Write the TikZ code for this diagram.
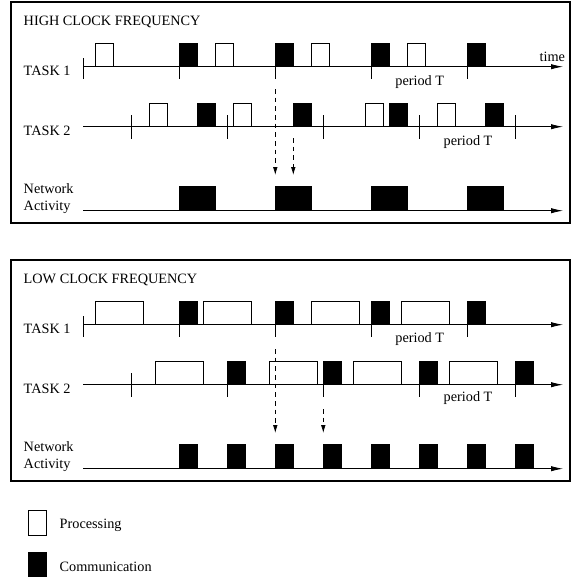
\documentclass[tikz,border=0pt]{standalone}
\usepackage{fontspec}
\setmainfont{Liberation Serif}
\usetikzlibrary{arrows.meta}
\begin{document}
\begin{tikzpicture}[x=0.75pt,y=-0.75pt,line width=0.6pt,
  axis/.style={-{Latex[length=9pt,width=4pt]}},
  flow/.style={dash pattern=on 3.5pt off 3pt,-{Latex[length=6pt,width=3.5pt]}},
  frame/.style={draw,line width=0.9pt},
  proc/.style={draw,fill=white},
  comm/.style={draw,fill=black},
  lbl/.style={anchor=base west,inner sep=0pt,font=\fontsize{10.7}{12}\selectfont}]
\useasboundingbox (0,0) rectangle (574,579);
% ================= HIGH =================
\draw[frame] (11,2) rectangle (570,223);
\node[lbl] (titleH) at (23.3,25) {HIGH CLOCK FREQUENCY};
\node[lbl] (t1H) at (23.3,75) {TASK 1};
\node[lbl] (t2H) at (23.3,135) {TASK 2};
\node[lbl] (n1H) at (23.3,193.3) {Network};
\node[lbl] (n2H) at (23.3,210.7) {Activity};
\node[lbl] (timeH) at (539.3,61) {time};
\node[lbl] (p1H) at (395,85) {period T};
\node[lbl] (p2H) at (443.3,145) {period T};
% task 1
\coordinate (a1s) at (83.3,66.7); \coordinate (a1e) at (563,66.7);
\draw[axis] (a1s) -- (a1e);
\draw (83.3,58.3) -- (83.3,79);
\foreach \x in {179.3,275.3,371.3,467.3} \draw (\x,66.7) -- (\x,79);
\foreach \x in {95.7,215,311.3,407.3} \draw[proc] (\x,66.7) rectangle ++(18,-23.4);
\foreach \x in {179.3,275.3,371.3,467.3} \draw[comm] (\x,66.7) rectangle ++(18,-23.4);
% task 2
\coordinate (a2s) at (83.3,126.7); \coordinate (a2e) at (563,126.7);
\draw[axis] (a2s) -- (a2e);
\foreach \x in {131.3,227.3,323.3,419.3,515.3} \draw (\x,115) -- (\x,139);
\foreach \x in {149.3,233.3,365.3,437.3} \draw[proc] (\x,126.7) rectangle ++(18,-23.4);
\foreach \x in {197.3,293.3,389.3,485.3} \draw[comm] (\x,126.7) rectangle ++(18,-23.4);
% network
\coordinate (a3s) at (83.3,210.7); \coordinate (a3e) at (563,210.7);
\draw[axis] (a3s) -- (a3e);
\foreach \x in {179.3,275.3,371.3,467.3} \draw[comm] (\x,210.7) rectangle ++(36,-24);
% dashed
\coordinate (d1s) at (275.3,89); \coordinate (d1e) at (275.3,175);
\coordinate (d2s) at (293.3,138); \coordinate (d2e) at (293.3,175);
\draw[flow] (d1s) -- (d1e);
\draw[flow] (d2s) -- (d2e);
% ================= LOW =================
\draw[frame] (11,260) rectangle (570,481);
\node[lbl] (titleL) at (23.3,283) {LOW CLOCK FREQUENCY};
\node[lbl] (t1L) at (23.3,333) {TASK 1};
\node[lbl] (t2L) at (23.3,393) {TASK 2};
\node[lbl] (n1L) at (23.3,451.3) {Network};
\node[lbl] (n2L) at (23.3,468.7) {Activity};
\node[lbl] (p1L) at (395,342.7) {period T};
\node[lbl] (p2L) at (443.3,401.7) {period T};
% task 1
\coordinate (b1s) at (83.3,324.7); \coordinate (b1e) at (563,324.7);
\draw[axis] (b1s) -- (b1e);
\draw (83.3,316.3) -- (83.3,337);
\foreach \x in {179.3,275.3,371.3,467.3} \draw (\x,324.7) -- (\x,337);
\foreach \x in {95.7,203.3,311.3,401.3} \draw[proc] (\x,324.7) rectangle ++(48,-23.4);
\foreach \x in {179.3,275.3,371.3,467.3} \draw[comm] (\x,324.7) rectangle ++(18,-23.4);
% task 2
\coordinate (b2s) at (83.3,384.7); \coordinate (b2e) at (563,384.7);
\draw[axis] (b2s) -- (b2e);
\draw (131.3,373) -- (131.3,397);
\foreach \x in {227.3,323.3,419.3,515.3} \draw (\x,384.7) -- (\x,397);
\foreach \x in {155.7,269.3,353.3,449.3} \draw[proc] (\x,384.7) rectangle ++(48,-23.4);
\foreach \x in {227.3,323.3,419.3,515.3} \draw[comm] (\x,384.7) rectangle ++(18,-23.4);
% network
\coordinate (b3s) at (83.3,468.7); \coordinate (b3e) at (563,468.7);
\draw[axis] (b3s) -- (b3e);
\foreach \x in {179.3,227.3,275.3,323.3,371.3,419.3,467.3,515.3} \draw[comm] (\x,468.7) rectangle ++(18,-24);
% dashed
\coordinate (e1s) at (275.3,349); \coordinate (e1e) at (275.3,433);
\coordinate (e2s) at (323.3,409); \coordinate (e2e) at (323.3,433);
\draw[flow] (e1s) -- (e1e);
\draw[flow] (e2s) -- (e2e);
% ================= LEGEND =================
\draw[proc] (28.3,510.7) rectangle (46.7,535);
\draw[comm] (28.3,552.7) rectangle (46.7,576.7);
\node[lbl] (lp) at (59.3,528.3) {Processing};
\node[lbl] (lc) at (59.3,571.7) {Communication};
\end{tikzpicture}
\end{document}
